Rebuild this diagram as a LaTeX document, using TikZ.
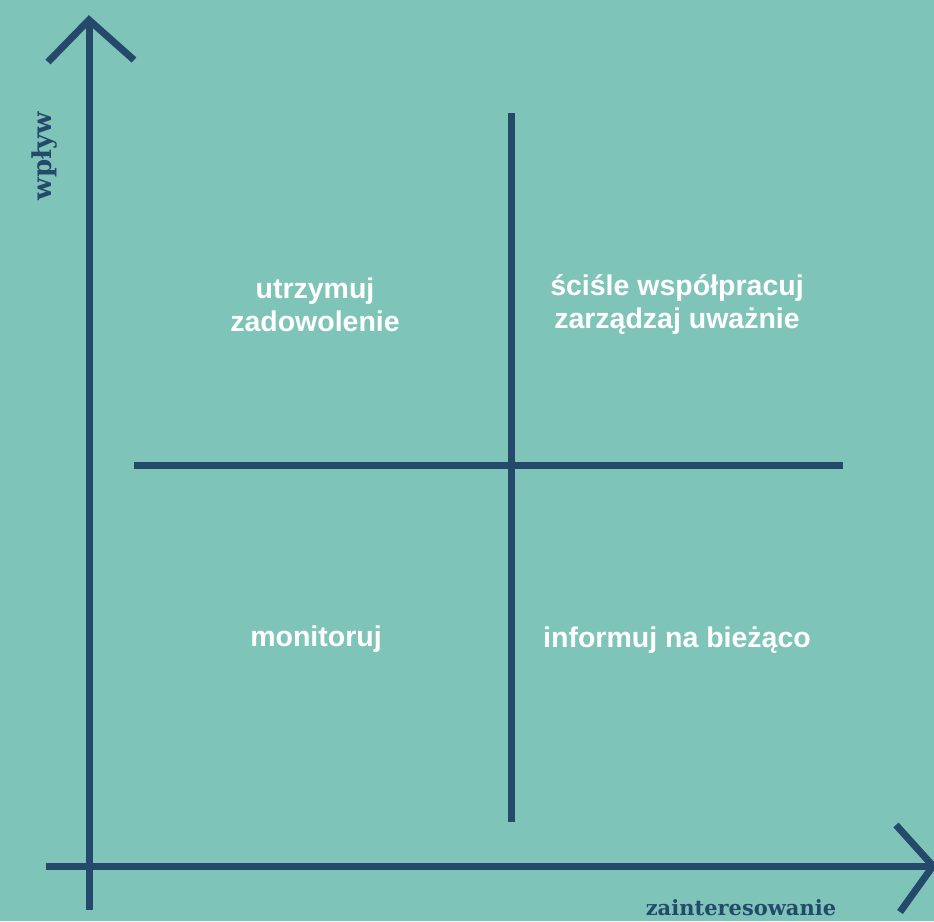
\documentclass[tikz,border=0pt]{standalone}
\usepackage{fontspec}
\setmainfont{Liberation Sans}
\newfontfamily\axisfont{DejaVu Serif}
\definecolor{bgteal}{HTML}{7FC4B8}
\definecolor{inkblue}{HTML}{25496B}
\begin{document}
\begin{tikzpicture}[x=1pt,y=1pt,
  axisline/.style={draw=inkblue,line width=7pt,line cap=butt},
  headline/.style={draw=inkblue,line width=7pt,line cap=butt,line join=miter},
  quadtext/.style={text=white,font=\fontsize{28.5}{33}\selectfont\bfseries,align=center,inner sep=0pt},
  axislabel/.style={text=inkblue,font=\axisfont\bfseries,inner sep=0pt}]
  % background
  \fill[bgteal] (0,0) rectangle (934,921);
  \useasboundingbox (0,0) rectangle (934,921);
  % axis end points
  \coordinate (ybot) at (89,11);
  \coordinate (ytop) at (89,901);
  \coordinate (xleft) at (46,55);
  \coordinate (xright) at (933,55);
  % axes
  \draw[axisline] (ybot) -- (ytop);
  \draw[axisline] (xleft) -- (xright);
  \draw[headline] (48,859) -- (ytop) -- (134,861);
  \draw[headline] (896,96) -- (xright) -- (900,9);
  % quadrant dividers
  \coordinate (vtop) at (511,808);
  \coordinate (vbot) at (511,99);
  \coordinate (hleft) at (134,455);
  \coordinate (hright) at (843,455);
  \draw[axisline] (vtop) -- (vbot);
  \draw[axisline] (hleft) -- (hright);
  % quadrant labels
  \node[quadtext] (q1) at (315,616) {utrzymuj\\zadowolenie};
  \node[quadtext] (q2) at (677,616) {ściśle współpracuj\\zarządzaj uważnie};
  \node[quadtext] (q3) at (316,282) {monitoruj};
  \node[quadtext] (q4) at (677,281) {informuj na bieżąco};
  % axis labels
  \node[axislabel,font=\axisfont\bfseries\fontsize{26}{30}\selectfont,anchor=base,rotate=90] (ylab) at (51,765) {wpływ};
  \node[axislabel,font=\axisfont\bfseries\fontsize{21}{24}\selectfont,anchor=base] (xlab) at (741,6) {zainteresowanie};
\end{tikzpicture}
\end{document}
